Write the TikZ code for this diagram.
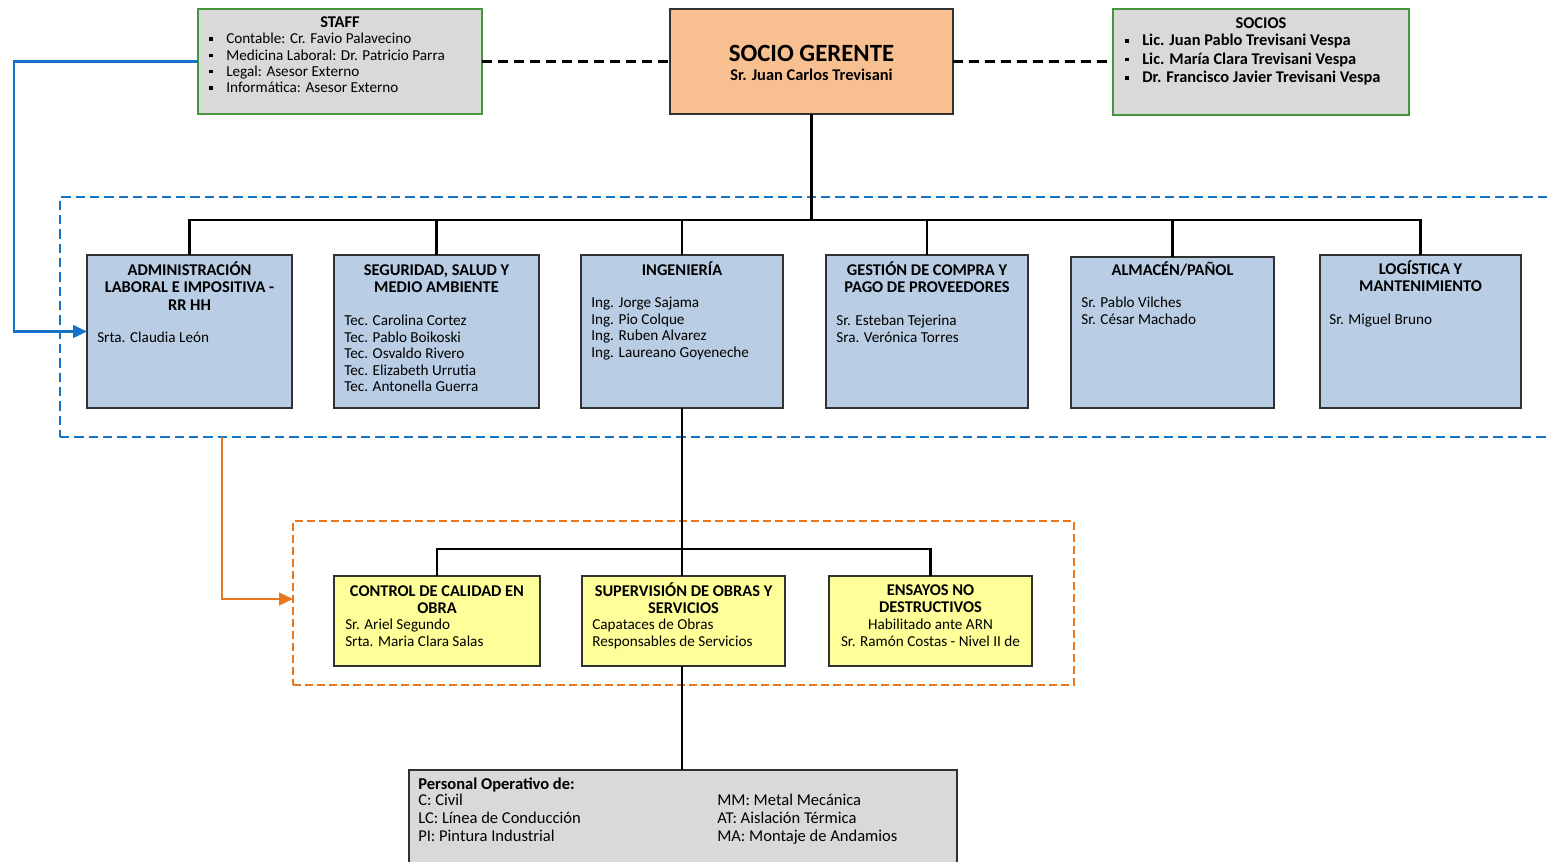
\documentclass[tikz,border=0pt]{standalone}
\usepackage{fontspec}
\setmainfont{Carlito}
\usetikzlibrary{arrows.meta,calc}

\definecolor{staffgreen}{RGB}{70,150,60}
\definecolor{panelgray}{RGB}{217,217,217}
\definecolor{headorange}{RGB}{248,192,144}
\definecolor{areablue}{RGB}{185,205,228}
\definecolor{teamyellow}{RGB}{255,255,153}
\definecolor{linkblue}{RGB}{20,115,200}
\definecolor{linkorange}{RGB}{232,118,30}
\definecolor{edgegray}{RGB}{50,50,50}

% strut fixing the top of every multi-line text block
\newcommand\tstrut{\rule{0pt}{11pt}}
% small square bullet
\newcommand\sqbul{\makebox[12.75pt][l]{\raisebox{2.2pt}{\rule{2.6pt}{2.6pt}}}}

\begin{document}
\begin{tikzpicture}[x=0.75pt,y=-0.75pt,
  wd/.style={minimum width=#1*0.75pt},
  ht/.style={minimum height=#1*0.75pt},
  box/.style={draw=edgegray, line width=1.1pt, inner sep=0pt, outer sep=0pt},
  staffbox/.style={draw=staffgreen, fill=panelgray, line width=1.1pt, inner sep=0pt, outer sep=0pt},
  area/.style={box, fill=areablue, ht=153},
  team/.style={box, fill=teamyellow, ht=90},
  link/.style={line width=2pt, black},
  tie/.style={line width=2.1pt, black, dash pattern=on 7.5pt off 4.5pt},
  groupblue/.style={draw=linkblue, line width=2pt, dash pattern=on 7pt off 3.75pt, inner sep=0pt, outer sep=0pt},
  grouporange/.style={draw=linkorange, line width=1.7pt, dash pattern=on 6pt off 3pt, inner sep=0pt, outer sep=0pt},
  arrowblue/.style={draw=linkblue, line width=1.9pt, -{Triangle[length=10.5pt,width=9.5pt]}},
  arroworange/.style={draw=linkorange, line width=1.9pt, -{Triangle[length=10.5pt,width=9.5pt]}},
  lower/.style={yshift=-1.2pt},
  hd/.style={lower, inner sep=0pt, anchor=north, align=center, font=\bfseries\fontsize{12.3}{13.1}\selectfont},
  txt/.style={lower, inner sep=0pt, anchor=north west, align=left, font=\fontsize{11.4}{12.3}\selectfont},
]
\clip (0,0) rectangle (1551,862);
\fill[white] (0,0) rectangle (1551,862);

% dashed groupings
\node[groupblue, wd=1505, ht=240] (grpA) at (812.5,317) {};
\node[grouporange, wd=781, ht=164] (grpB) at (683.5,603) {};

% top row
\node[staffbox, wd=284, ht=105] (staff) at (340,61.5) {};
\node[box, fill=headorange, wd=283, ht=105] (gerente) at (811.5,61.5) {};
\node[staffbox, wd=296, ht=106] (socios) at (1261,62) {};

% areas
\node[area, wd=205] (adm) at (189.5,331.5) {};
\node[area, wd=205] (seg) at (436.5,331.5) {};
\node[area, wd=202] (ing) at (682,331.5) {};
\node[area, wd=202] (com) at (927,331.5) {};
\node[area, wd=203, ht=151] (alm) at (1172.5,332.5) {};
\node[area, wd=201] (log) at (1420.5,331.5) {};

% engineering teams
\node[team, wd=206] (cal) at (437,621) {};
\node[team, wd=203] (sup) at (683.5,621) {};
\node[team, wd=203] (ndt) at (930.5,621) {};

% operative staff
\node[box, fill=panelgray, wd=548, ht=120] (ops) at (683,830) {};

% hierarchy lines
\coordinate (bus) at (811.5,220);
\draw[link] (gerente.south) -- (bus);
\foreach \n in {adm,seg,ing,com,alm,log} \draw[link] (\n.north) |- (bus);
\draw[link] (ing.south) -- (ing.south |- sup.north);
\coordinate (tbus) at (682,549);
\draw[link] (cal.north) |- (tbus);
\draw[link] (ndt.north) |- (tbus);
\draw[link] (ing.south |- sup.south) -- (ing.south |- ops.north);

% advisory ties
\draw[tie] (staff.east) -- (gerente.west);
\draw[tie] (gerente.east) -- (gerente.east -| socios.west);

% support arrows
\coordinate (lk) at (14,61.5);
\draw[arrowblue] (staff.west) -- (lk) |- (adm.west);
\coordinate (ok) at (222,599);
\draw[arroworange] (ok |- grpA.south) -- (ok) -- (ok -| grpB.west);

% --- texts ---
\node[hd] (tstaff) at (340,10.8) {\tstrut STAFF};
\node[txt, font=\fontsize{11.4}{12.2}\selectfont] (lstaff) at (209,27.3)
  {\tstrut\sqbul Contable: Cr. Favio Palavecino\\
   \sqbul Medicina Laboral: Dr. Patricio Parra\\
   \sqbul Legal: Asesor Externo\\
   \sqbul Informática: Asesor Externo};

\node[hd] (tsocios) at (1261,11.8) {\tstrut SOCIOS};
\node[txt, font=\bfseries\fontsize{12.3}{13.9}\selectfont] (lsocios) at (1125,29.3)
  {\tstrut\sqbul Lic. Juan Pablo Trevisani Vespa\\
   \sqbul Lic. María Clara Trevisani Vespa\\
   \sqbul Dr. Francisco Javier Trevisani Vespa};

\node[lower, anchor=base, inner sep=0pt, font=\bfseries\fontsize{18.6}{20}\selectfont] (tger) at (811.5,60) {SOCIO GERENTE};
\node[lower, anchor=base, inner sep=0pt, font=\bfseries\fontsize{12.3}{13}\selectfont] (nger) at (811.5,79) {Sr. Juan Carlos Trevisani};

\node[hd] (tadm) at (189.5,258.8) {\tstrut ADMINISTRACIÓN\\LABORAL E IMPOSITIVA -\\RR HH};
\node[hd] (tseg) at (436.5,258.8) {\tstrut SEGURIDAD, SALUD Y\\MEDIO AMBIENTE};
\node[hd] (ting) at (682,258.8) {\tstrut INGENIERÍA};
\node[hd] (tcom) at (927,258.8) {\tstrut GESTIÓN DE COMPRA Y\\PAGO DE PROVEEDORES};
\node[hd] (talm) at (1172.5,258.8) {\tstrut ALMACÉN/PAÑOL};
\node[hd] (tlog) at (1420.5,257.8) {\tstrut LOGÍSTICA Y\\MANTENIMIENTO};

\node[txt] (badm) at (97,326.3) {\tstrut Srta. Claudia León};
\node[txt] (bseg) at (344,309.3) {\tstrut Tec. Carolina Cortez\\Tec. Pablo Boikoski\\Tec. Osvaldo Rivero\\Tec. Elizabeth Urrutia\\Tec. Antonella Guerra};
\node[txt] (bing) at (591,291.3) {\tstrut Ing. Jorge Sajama\\Ing. Pio Colque\\Ing. Ruben Alvarez\\Ing. Laureano Goyeneche};
\node[txt] (bcom) at (836,309.3) {\tstrut Sr. Esteban Tejerina\\Sra. Verónica Torres};
\node[txt] (balm) at (1081,291.3) {\tstrut Sr. Pablo Vilches\\Sr. César Machado};
\node[txt] (blog) at (1329,308.3) {\tstrut Sr. Miguel Bruno};

\node[hd, font=\bfseries\fontsize{12.3}{12.75}\selectfont] (tcal) at (437,579.8) {\tstrut CONTROL DE CALIDAD EN\\OBRA};
\node[txt, font=\fontsize{11.4}{12.75}\selectfont] (bcal) at (345,613.3) {\tstrut Sr. Ariel Segundo\\Srta. Maria Clara Salas};
\node[hd, font=\bfseries\fontsize{12.3}{12.75}\selectfont] (tsup) at (683.5,579.8) {\tstrut SUPERVISIÓN DE OBRAS Y\\SERVICIOS};
\node[txt, font=\fontsize{11.4}{12.75}\selectfont] (bsup) at (592,613.3) {\tstrut Capataces de Obras\\Responsables de Servicios};
\node[hd, font=\bfseries\fontsize{12.3}{12.75}\selectfont] (tndt) at (930.5,578.8) {\tstrut ENSAYOS NO\\DESTRUCTIVOS};
\node[txt, anchor=north, align=center, font=\fontsize{11.4}{12.75}\selectfont] (bndt) at (930.5,612.8) {\tstrut Habilitado ante ARN\\Sr. Ramón Costas - Nivel II de};

\node[lower, anchor=base west, inner sep=0pt, font=\bfseries\fontsize{12.4}{13.5}\selectfont] (tops) at (418,787.5) {Personal Operativo de:};
\node[txt, font=\fontsize{12.4}{13.5}\selectfont] (lops) at (418,789.3) {\tstrut C: Civil\\LC: Línea de Conducción\\PI: Pintura Industrial};
\node[txt, font=\fontsize{12.4}{13.5}\selectfont] (rops) at (717,789.3) {\tstrut MM: Metal Mecánica\\AT: Aislación Térmica\\MA: Montaje de Andamios};
\end{tikzpicture}
\end{document}
